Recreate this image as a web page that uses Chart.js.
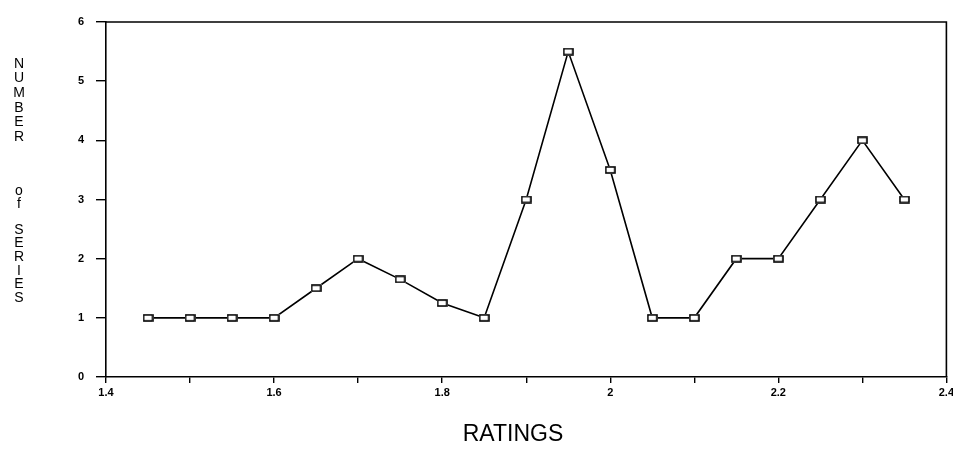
<!DOCTYPE html>
<html>
<head>
<meta charset="utf-8">
<script src="https://cdn.jsdelivr.net/npm/chart.js@4.4.1/dist/chart.umd.min.js"></script>
<style>
  html, body { margin: 0; padding: 0; background: #fff; overflow: hidden; }
  #wrap { width: 953px; height: 453px; position: relative; }
</style>
</head>
<body>
<div id="wrap"><canvas id="c" width="953" height="453"></canvas></div>
<script>
// ---- data ----
const ratings = [1.45, 1.5, 1.55, 1.6, 1.65, 1.7, 1.75, 1.8, 1.85, 1.9, 1.95, 2.0, 2.05, 2.1, 2.15, 2.2, 2.25, 2.3, 2.35];
const seriesCounts = [1, 1, 1, 1, 1.5, 2, 1.65, 1.25, 1, 3, 5.5, 3.5, 1, 1, 2, 2, 3, 4, 3];
const xTickLabels = ['1.4', '1.6', '1.8', '2', '2.2', '2.4'];
const yTickLabels = ['0', '1', '2', '3', '4', '5', '6'];
const xTitle = 'RATINGS';
const yTitleWords = ['NUMBER', 'of', 'SERIES'];

const points = ratings.map((r, i) => ({ x: r, y: seriesCounts[i] }));

// marker: small open rectangle
const marker = document.createElement('canvas');
marker.width = 11; marker.height = 8;
(function () {
  const m = marker.getContext('2d');
  m.fillStyle = '#fff';
  m.fillRect(0, 0, 11, 8);
  m.strokeStyle = '#000';
  m.lineWidth = 1.6;
  m.strokeRect(1, 1, 9, 6);
})();

const FONT = "'Liberation Sans', Arial, sans-serif";

const framePlugin = {
  id: 'frame',
  afterDraw(chart) {
    const ctx = chart.ctx, a = chart.chartArea;
    ctx.save();
    ctx.strokeStyle = '#000';
    ctx.lineWidth = 1.6;
    ctx.beginPath();
    ctx.moveTo(a.left, a.top);
    ctx.lineTo(a.right, a.top);
    ctx.lineTo(a.right, a.bottom);
    ctx.stroke();

    // x title
    ctx.fillStyle = '#000';
    ctx.font = '23px ' + FONT;
    ctx.textAlign = 'center';
    ctx.textBaseline = 'middle';
    ctx.fillText(xTitle, 513, 435);

    // y title: stacked letters
    ctx.font = '14px ' + FONT;
    const layout = [
      { start: 64, pitch: 14.6 },
      { start: 191, pitch: 13 },
      { start: 230, pitch: 13.6 }
    ];
    yTitleWords.forEach((w, wi) => {
      const L = layout[wi];
      for (let i = 0; i < w.length; i++) {
        ctx.fillText(w[i], 19, L.start + i * L.pitch);
      }
    });
    ctx.restore();
  }
};

new Chart(document.getElementById('c'), {
  type: 'line',
  data: {
    datasets: [{
      data: points,
      borderColor: '#000',
      borderWidth: 1.6,
      pointStyle: marker,
      pointRadius: 5,
      pointHoverRadius: 5,
      tension: 0,
      fill: false
    }]
  },
  options: {
    responsive: false,
    animation: false,
    events: [],
    layout: { padding: { top: 22, right: 6, left: 0, bottom: 0 } },
    plugins: { legend: { display: false }, tooltip: { enabled: false } },
    scales: {
      x: {
        type: 'linear',
        min: 1.4,
        max: 2.4,
        ticks: {
          stepSize: 0.1,
          autoSkip: false,
          maxRotation: 0,
          padding: 3,
          color: '#000',
          font: { family: FONT, size: 11, weight: 'bold' },
          callback: (v) => {
            const k = Math.round(v * 10);
            if (k % 2 !== 0) return '';
            const idx = (k - 14) / 2;
            return xTickLabels[idx] !== undefined ? xTickLabels[idx] : '';
          }
        },
        grid: { drawOnChartArea: false, drawTicks: true, tickLength: 6, color: '#000', lineWidth: 1.4 },
        border: { display: true, color: '#000', width: 1.6 },
        afterFit: (s) => { s.height = 76; s.paddingLeft = 0; s.paddingRight = 0; }
      },
      y: {
        min: 0,
        max: 6,
        ticks: {
          stepSize: 1,
          padding: 12,
          color: '#000',
          font: { family: FONT, size: 11, weight: 'bold' },
          callback: (v) => yTickLabels[Math.round(v)]
        },
        grid: { drawOnChartArea: false, drawTicks: true, tickLength: 10, color: '#000', lineWidth: 1.4 },
        border: { display: true, color: '#000', width: 1.6 },
        afterFit: (s) => { s.width = 106; s.paddingTop = 0; s.paddingBottom = 0; }
      }
    }
  },
  plugins: [framePlugin]
});
</script>
</body>
</html>
